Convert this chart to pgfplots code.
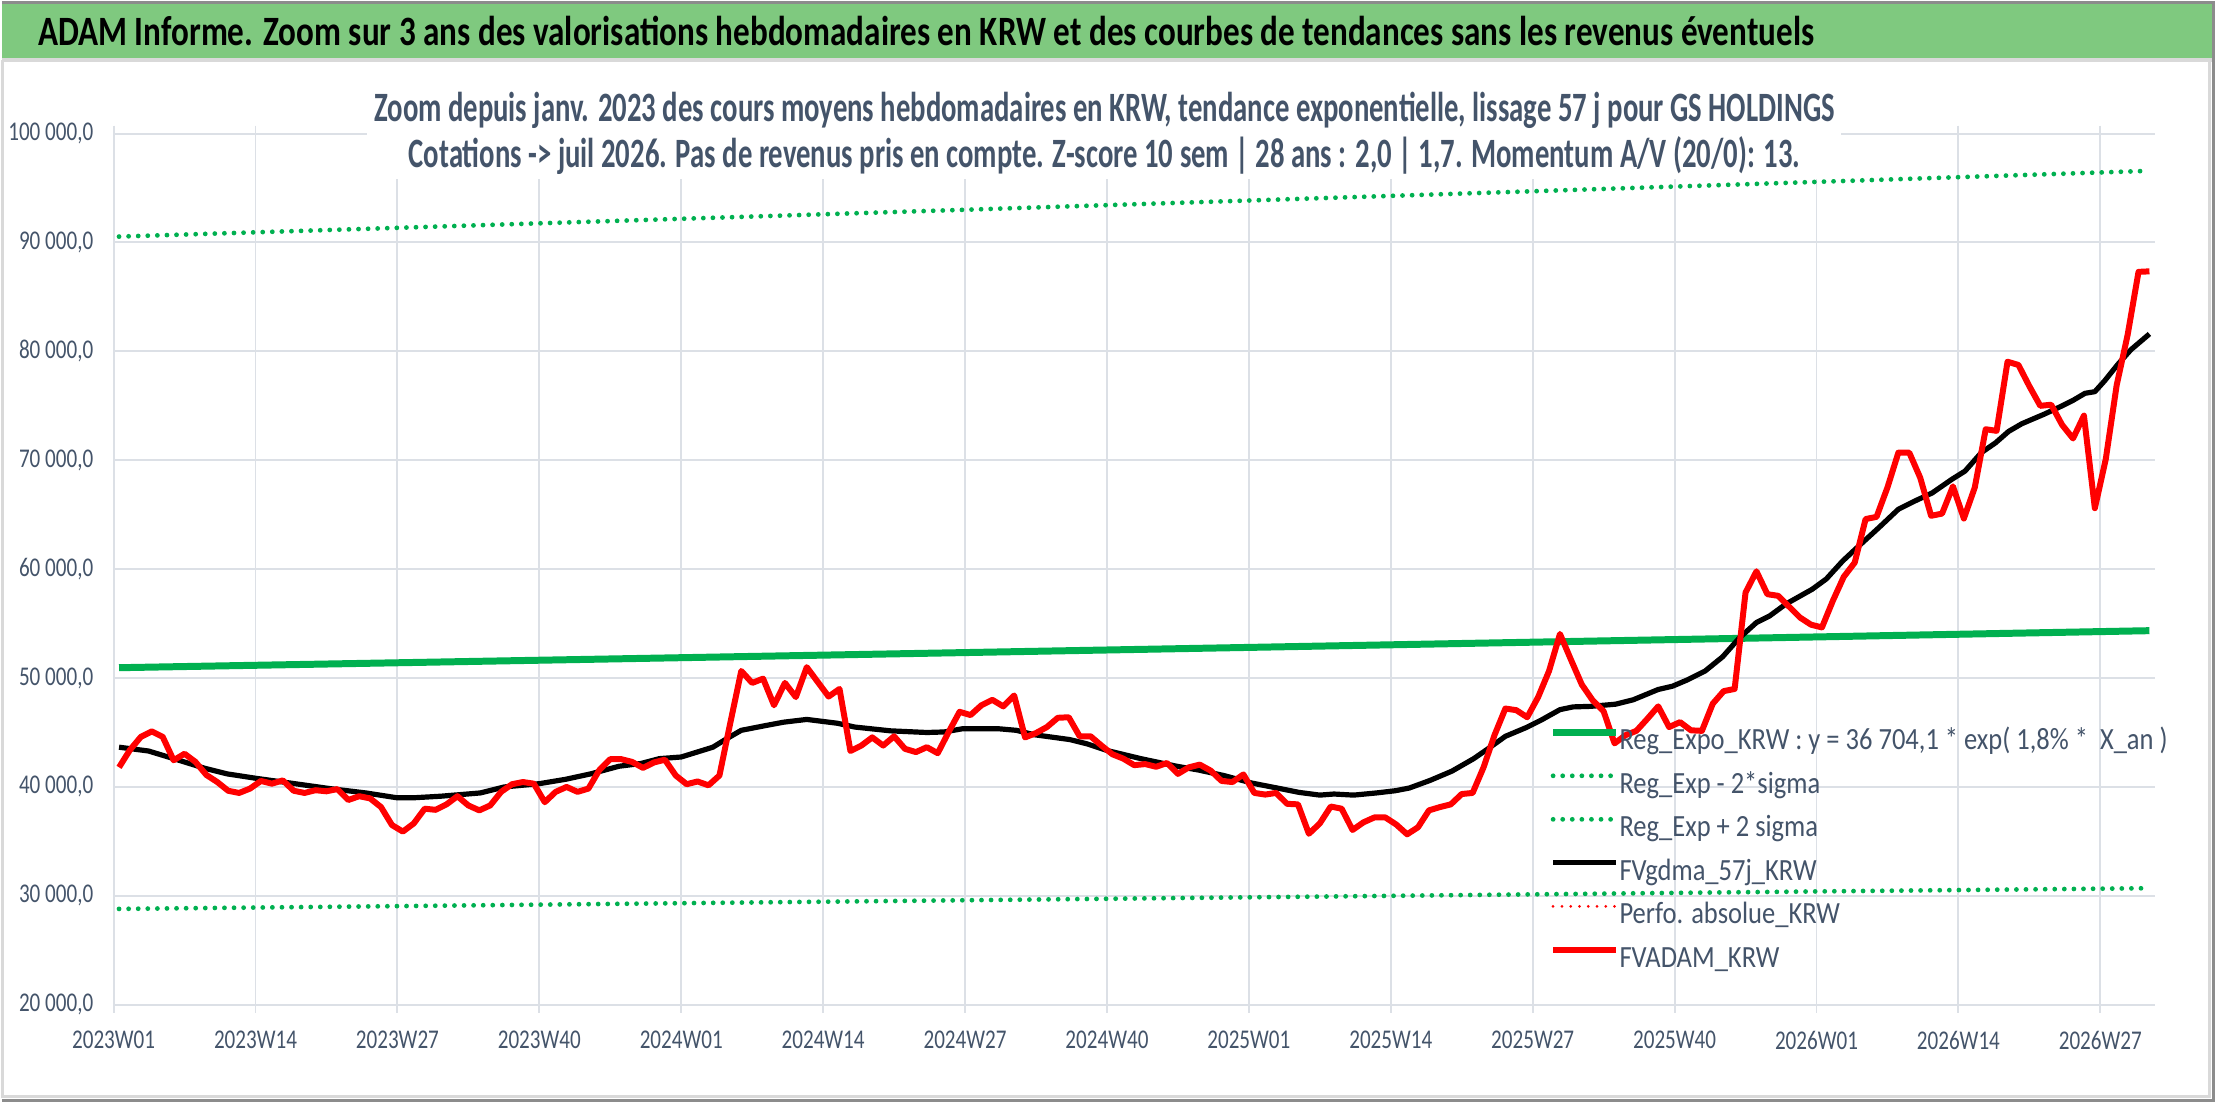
\documentclass[border=0pt]{standalone}
\usepackage{fontspec}
\setmainfont{Carlito}[FakeStretch=0.78]
\newfontfamily\titlefont{Carlito}[FakeStretch=0.793]
\newfontfamily\subfont{Carlito}[FakeStretch=0.687]
\newfontfamily\legfont{Carlito}[FakeStretch=0.86]
\usepackage{pgfplots}
\pgfplotsset{compat=1.18}
\definecolor{bandgreen}{HTML}{7FC97F}
\definecolor{regGreen}{HTML}{00B050}
\definecolor{txtgray}{HTML}{44546A}
\definecolor{gridc}{HTML}{DCE0E6}
\begin{document}
\begin{tikzpicture}
\fill[white] (0bp,0bp) rectangle (1108bp,-551bp);
\begin{axis}[
  at={(55.9bp,-502.5bp)}, anchor=south west,
  scale only axis, width=1022.45bp, height=436.35bp,
  xmin=-0.5, xmax=186.5, ymin=20000, ymax=100000,
  scaled y ticks=false,
  axis line style={draw=none},
  xtick={-0.5,12.5,25.5,38.5,51.5,64.5,77.5,90.5,103.5,116.5,129.5,142.5,155.5,168.5,181.5},
  xticklabels={2023W01,2023W14,2023W27,2023W40,2024W01,2024W14,2024W27,2024W40,2025W01,2025W14,2025W27,2025W40,2026W01,2026W14,2026W27},
  ytick={20000,30000,40000,50000,60000,70000,80000,90000,100000},
  yticklabels={{20 000,0},{30 000,0},{40 000,0},{50 000,0},{60 000,0},{70 000,0},{80 000,0},{90 000,0},{100 000,0}},
  grid=major,
  major grid style={draw=gridc, line width=1bp},
  tick align=outside, major tick length=4bp,
  xtick style={draw=gridc, line width=1bp},
  ytick style={draw=none},
  ticklabel style={font=\fontsize{13.6}{16}\selectfont, text=txtgray},
  xticklabel style={anchor=north, inner sep=0pt, yshift=-9bp},
  yticklabel style={anchor=east, inner sep=0pt, xshift=-6bp},
  legend style={draw=none, fill=none, at={(0.7033,0.3195)}, anchor=north west,
    font=\legfont\fontsize{15.5}{18}\selectfont, text=txtgray, inner sep=0pt, row sep=6.3bp,
    nodes={inner sep=0pt, text height=11.5bp, text depth=4bp},
    /tikz/every even column/.append style={column sep=4bp}},
  legend cell align=left,
  legend image code/.code={\draw[#1] (0bp,5bp) -- (31.5bp,5bp);},
]
\addplot[regGreen, line width=3.5bp] coordinates {(0,50950) (26,51412) (52,51878) (78,52348) (104,52823) (130,53302) (156,53785) (186,54350)};
\addlegendentry{Reg\_Expo\_KRW : y = 36 704,1 * exp( 1,8\% *\ \ X\_an )}
\addplot[regGreen, line width=2.4bp, dash pattern=on 0bp off 4.8bp, line cap=round] coordinates {(0,28800) (26,29060) (52,29330) (78,29600) (104,29870) (130,30140) (156,30410) (186,30700)};
\addlegendentry{Reg\_Exp - 2*sigma}
\addplot[regGreen, line width=2.4bp, dash pattern=on 0bp off 4.8bp, line cap=round] coordinates {(0,90540) (26,91360) (52,92190) (78,93020) (104,93870) (130,94720) (156,95580) (186,96580)};
\addlegendentry{Reg\_Exp + 2 sigma}
\addplot[black, line width=2.6bp, line join=round] coordinates {
(0,43650) (2.7,43300) (5.0,42600) (7.9,41700) (9.9,41200) (12.5,40800) (16.1,40300) (19.3,39850) (22.6,39450) (25.5,39000) (26.9,39000) (29.5,39150) (33.1,39450) (35.3,40000) (38.5,40300) (40.9,40700) (43.2,41200) (45.8,41900) (47.8,42150) (49.5,42600) (51.5,42750) (54.4,43650) (55.7,44450) (57.0,45200) (59.3,45650) (60.9,45950) (63.0,46200) (65.8,45850) (67.4,45500) (70.7,45150) (74.0,45000) (75.6,45050) (77.3,45350) (80.5,45350) (82.2,45200) (83.8,44800) (87.1,44350) (88.7,43950) (90.5,43350) (93.6,42600) (96.9,41900) (98.9,41550) (101.2,41050) (103.8,40350) (106.1,39900) (108.1,39500) (110.0,39250) (111.3,39350) (113.1,39250) (115.2,39450) (116.9,39650) (118.2,39900) (120.1,40600) (122.1,41450) (124.1,42600) (125.4,43500) (127.0,44650) (128.9,45450) (130.3,46150) (132.0,47100) (133.2,47350) (134.8,47400) (137.1,47600) (138.7,48000) (141.0,48950) (142.3,49250) (143.6,49800) (145.3,50650) (146.9,51950) (148.4,53650) (150.0,55100) (151.2,55700) (152.7,56800) (155.1,58150) (156.4,59100) (157.9,60750) (159.4,62150) (161.2,63800) (163.0,65500) (164.6,66300) (166.1,67000) (167.9,68250) (169.1,69000) (170.6,70700) (171.9,71600) (173.1,72650) (174.3,73350) (176.4,74250) (177.9,74950) (179.0,75500) (180.1,76150) (181.0,76300) (181.9,77300) (183.1,78800) (184.3,80150) (186.0,81600)};
\addlegendentry{FVgdma\_57j\_KRW}
\addlegendimage{red, line width=1.5bp, dash pattern=on 0bp off 4.4bp, line cap=round}
\addlegendentry{Perfo. absolue\_KRW}
\addplot[red, line width=3bp, line join=round] table[row sep=\\] {
x y\\
0 41800\\ 1 43400\\ 2 44600\\ 3 45100\\ 4 44600\\ 5 42450\\ 6 43050\\ 7 42300\\ 8 41100\\ 9 40450\\
10 39650\\ 11 39450\\ 12 39850\\ 13 40550\\ 14 40300\\ 15 40600\\ 16 39650\\ 17 39450\\ 18 39700\\ 19 39600\\
20 39800\\ 21 38800\\ 22 39150\\ 23 38950\\ 24 38150\\ 25 36500\\ 26 35900\\ 27 36650\\ 28 38000\\ 29 37900\\
30 38400\\ 31 39150\\ 32 38300\\ 33 37850\\ 34 38300\\ 35 39550\\ 36 40250\\ 37 40450\\ 38 40300\\ 39 38600\\
40 39550\\ 41 40000\\ 42 39550\\ 43 39850\\ 44 41550\\ 45 42550\\ 46 42550\\ 47 42300\\ 48 41750\\ 49 42250\\
50 42500\\ 51 41050\\ 52 40250\\ 53 40500\\ 54 40150\\ 55 41050\\ 56 45900\\ 57 50650\\ 58 49550\\ 59 49950\\
60 47500\\ 61 49550\\ 62 48250\\ 63 51000\\ 64 49650\\ 65 48300\\ 66 49000\\ 67 43300\\ 68 43800\\ 69 44550\\
70 43800\\ 71 44650\\ 72 43500\\ 73 43200\\ 74 43650\\ 75 43100\\ 76 45050\\ 77 46900\\ 78 46600\\ 79 47500\\
80 48000\\ 81 47400\\ 82 48400\\ 83 44550\\ 84 44950\\ 85 45500\\ 86 46350\\ 87 46400\\ 88 44650\\ 89 44650\\
90 43800\\ 91 43000\\ 92 42600\\ 93 42000\\ 94 42100\\ 95 41850\\ 96 42200\\ 97 41200\\ 98 41800\\ 99 42050\\
100 41500\\ 101 40550\\ 102 40450\\ 103 41150\\ 104 39450\\ 105 39300\\ 106 39450\\ 107 38450\\ 108 38400\\ 109 35700\\
110 36650\\ 111 38200\\ 112 38000\\ 113 36050\\ 114 36750\\ 115 37200\\ 116 37200\\ 117 36550\\ 118 35650\\ 119 36300\\
120 37850\\ 121 38150\\ 122 38400\\ 123 39350\\ 124 39450\\ 125 41800\\ 126 44750\\ 127 47200\\ 128 47050\\ 129 46400\\
130 48250\\ 131 50650\\ 132 54050\\ 133 51700\\ 134 49400\\ 135 47950\\ 136 46950\\ 137 44000\\ 138 44750\\ 139 45150\\
140 46250\\ 141 47400\\ 142 45500\\ 143 45950\\ 144 45200\\ 145 45150\\ 146 47650\\ 147 48800\\ 148 49000\\ 149 57850\\
150 59800\\ 151 57700\\ 152 57550\\ 153 56550\\ 154 55550\\ 155 54900\\ 156 54650\\ 157 57100\\ 158 59300\\ 159 60600\\
160 64600\\ 161 64800\\ 162 67500\\ 163 70700\\ 164 70700\\ 165 68400\\ 166 64900\\ 167 65100\\ 168 67600\\ 169 64650\\
170 67500\\ 171 72850\\ 172 72700\\ 173 79050\\ 174 78750\\ 175 76800\\ 176 75000\\ 177 75100\\ 178 73250\\ 179 72000\\
180 74100\\ 181 65600\\ 182 70100\\ 183 76900\\ 184 81500\\ 185 87300\\ 186 87350\\
};
\addlegendentry{FVADAM\_KRW}
\end{axis}
\begin{scope}[x=0.5bp, y=-0.5bp]
% title band
\fill[bandgreen] (0,0) rectangle (2216,57);
\draw[black!45, line width=1.5] (0,0.75) -- (2216,0.75);
\draw[black!15, line width=2] (0,59) -- (2216,59);
\node[anchor=base west, inner sep=0pt, font=\titlefont\bfseries\fontsize{21}{24}\selectfont] at (36,44.3) {ADAM Informe. Zoom sur 3 ans des valorisations hebdomadaires en KRW et des courbes de tendances sans les revenus éventuels};
% chart area frame
\draw[black!15, line width=1.5] (1,59) -- (1,1097) -- (2211,1097) -- (2211,59);
\draw[black!45, line width=1.5] (0,1101) -- (2216,1101);
\draw[black!45, line width=1.5] (2215,0) -- (2215,1102);
% subtitle
\fill[white] (366,75) rectangle (1842,178);
\node[anchor=base, inner sep=0pt, text=txtgray, font=\subfont\bfseries\fontsize{21}{24}\selectfont] at (1104.5,120) {Zoom depuis janv. 2023 des cours moyens hebdomadaires en KRW, tendance exponentielle, lissage 57 j pour GS HOLDINGS};
\node[anchor=base, inner sep=0pt, text=txtgray, font=\subfont\bfseries\fontsize{21}{24}\selectfont] at (1104.5,166) {Cotations -> juil 2026. Pas de revenus pris en compte. Z-score 10 sem | 28 ans : 2,0 | 1,7. Momentum A/V (20/0): 13.};
\end{scope}
\end{tikzpicture}
\end{document}
